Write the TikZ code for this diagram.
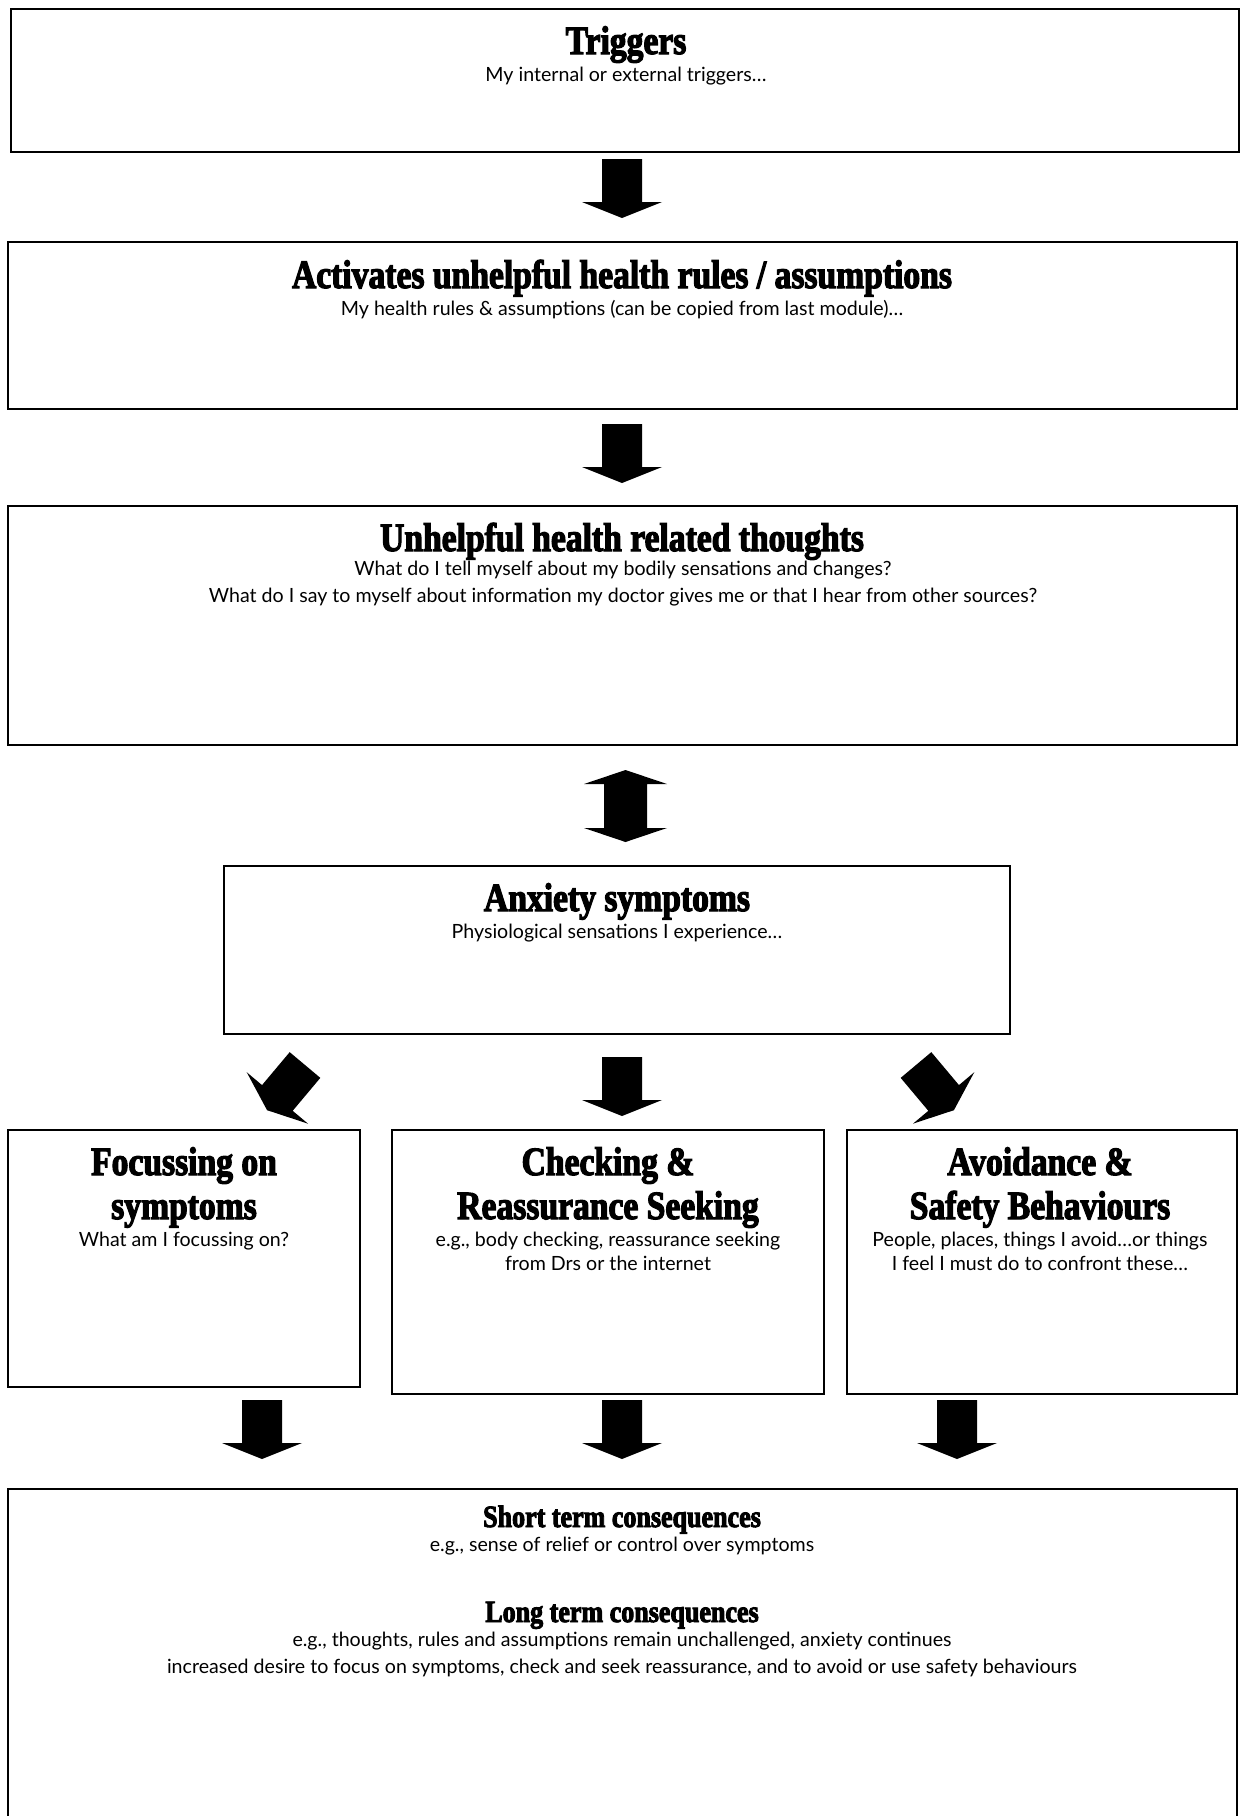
\documentclass[tikz,border=0pt]{standalone}
\usepackage{fontspec}
\setmainfont{Lato}
\newfontfamily\headfont{Liberation Serif}[UprightFont=* Bold, FakeStretch=0.84, FakeBold=3]
\begin{document}
\begin{tikzpicture}[x=1pt,y=-1pt,
  box/.style={draw=black, line width=2.5pt, rectangle, inner sep=0pt},
  head/.style={font=\headfont\fontsize{40}{44}\selectfont, anchor=base, inner sep=0pt},
  shead/.style={font=\headfont\fontsize{31}{34}\selectfont, anchor=base, inner sep=0pt},
  body/.style={font=\fontsize{19.6}{23}\selectfont, anchor=base, inner sep=0pt},
  blockarr/.pic={\fill[black] (-20,0) -- (20,0) -- (20,43) -- (40,43) -- (0,59) -- (-40,43) -- (-20,43) -- cycle;}
]
\useasboundingbox (0,0) rectangle (1240,1816);
\clip (0,0) rectangle (1240,1816);
\fill[white] (0,0) rectangle (1240,1816);

% boxes
\node[box, minimum width=1228pt, minimum height=143pt] (trig) at (625,80.5) {};
\node[box, minimum width=1229pt, minimum height=167pt] (act) at (622.5,325.5) {};
\node[box, minimum width=1229pt, minimum height=239pt] (tho) at (622.5,625.5) {};
\node[box, minimum width=786pt, minimum height=168pt] (anx) at (617,950) {};
\node[box, minimum width=352pt, minimum height=257pt] (foc) at (184,1258.5) {};
\node[box, minimum width=432pt, minimum height=264pt] (chk) at (608,1262) {};
\node[box, minimum width=390pt, minimum height=264pt] (avo) at (1042,1262) {};
\node[box, minimum width=1229pt, minimum height=341pt] (con) at (622.5,1659.5) {};

% texts
\node[head] (trigH) at (626,54) {Triggers};
\node[body] (trigS) at (626,81) {My internal or external triggers…};

\node[head] (actH) at (622,288) {Activates unhelpful health rules / assumptions};
\node[body] (actS) at (622,315) {My health rules \& assumptions (can be copied from last module)…};

\node[head] (thoH) at (622,551) {Unhelpful health related thoughts};
\node[body] (thoS1) at (623,575) {What do I tell myself about my bodily sensations and changes?};
\node[body] (thoS2) at (623,602) {What do I say to myself about information my doctor gives me or that I hear from other sources?};

\node[head] (anxH) at (617,911) {Anxiety symptoms};
\node[body] (anxS) at (617,938) {Physiological sensations I experience…};

\node[head] (focH1) at (184,1175) {Focussing on};
\node[head] (focH2) at (184,1219) {symptoms};
\node[body] (focS) at (184,1246) {What am I focussing on?};

\node[head] (chkH1) at (608,1175) {Checking \&};
\node[head] (chkH2) at (608,1219) {Reassurance Seeking};
\node[body] (chkS1) at (608,1246) {e.g., body checking, reassurance seeking};
\node[body] (chkS2) at (608,1270) {from Drs or the internet};

\node[head] (avoH1) at (1040,1175) {Avoidance \&};
\node[head] (avoH2) at (1040,1219) {Safety Behaviours};
\node[body] (avoS1) at (1040,1246) {People, places, things I avoid…or things};
\node[body] (avoS2) at (1040,1270) {I feel I must do to confront these…};

\node[shead] (shortH) at (622,1527) {Short term consequences};
\node[body] (shortS) at (622,1551) {e.g., sense of relief or control over symptoms};
\node[shead] (longH) at (622,1622) {Long term consequences};
\node[body] (longS1) at (622,1646) {e.g., thoughts, rules and assumptions remain unchallenged, anxiety continues};
\node[body] (longS2) at (622,1673) {increased desire to focus on symptoms, check and seek reassurance, and to avoid or use safety behaviours};

% block arrows
\pic at (622,159) {blockarr};
\pic at (622,424) {blockarr};
\fill[black] (625.5,770) -- (667,784) -- (647,784) -- (647,828) -- (667,828) -- (625.5,842)
  -- (584,828) -- (604,828) -- (604,784) -- (584,784) -- cycle;
\pic at (622,1057) {blockarr};
\pic[rotate=-40] at (305,1065) {blockarr};
\pic[rotate=40] at (916,1065) {blockarr};
\pic at (262,1400) {blockarr};
\pic at (622,1400) {blockarr};
\pic at (957,1400) {blockarr};
\end{tikzpicture}
\end{document}
